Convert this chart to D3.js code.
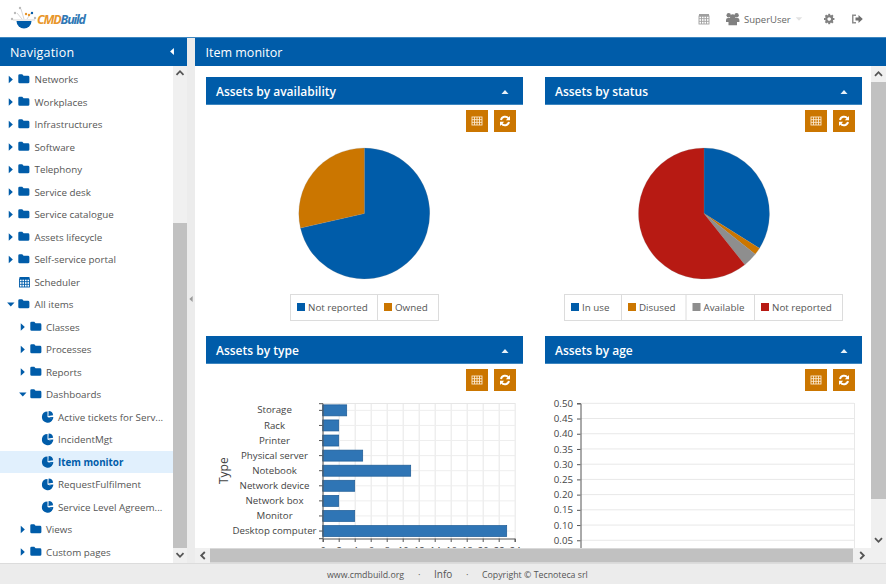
<!DOCTYPE html>
<html>
<head>
<meta charset="utf-8">
<title>Item monitor</title>
<script src="https://cdn.jsdelivr.net/npm/d3@7"></script>
<style>
html,body{margin:0;padding:0;background:#fff;overflow:hidden;}
svg{display:block;}
text{font-family:"Open Sans",sans-serif;}
</style>
</head>
<body>
<div id="app"></div>
<script>
// data
const availabilityLabels = ['Not reported','Owned'];
const availabilityValues = [40,16];
const statusLabels = ['In use','Disused','Available','Not reported'];
const statusValues = [19,1,2,34];
const typeLabels = ['Desktop computer','Monitor','Network box','Network device','Notebook','Physical server','Printer','Rack','Storage'];
const typeValues = [23,4,2,4,11,5,2,2,3];
const typeTicks = [0,2,4,6,8,10,12,14,16,18,20,22,24];
const ageTicks = [0,0.05,0.10,0.15,0.20,0.25,0.30,0.35,0.40,0.45,0.50];
// [label, indent level, kind]
const navItems = [
  ['Networks',0,'folder'],['Workplaces',0,'folder'],['Infrastructures',0,'folder'],
  ['Software',0,'folder'],['Telephony',0,'folder'],['Service desk',0,'folder'],
  ['Service catalogue',0,'folder'],['Assets lifecycle',0,'folder'],['Self-service portal',0,'folder'],
  ['Scheduler',0,'calendar'],['All items',0,'open'],['Classes',1,'folder'],
  ['Processes',1,'folder'],['Reports',1,'folder'],['Dashboards',1,'open'],
  ['Active tickets for Serv...',2,'pie'],['IncidentMgt',2,'pie'],['Item monitor',2,'selected'],
  ['RequestFulfilment',2,'pie'],['Service Level Agreem...',2,'pie'],['Views',1,'folder'],['Custom pages',1,'folder']
];

const blue='#005ca9', orange='#cb7600', red='#b71a13', gray='#8e8e8e';
const sliceColors = [blue,orange,gray,red];
const textColor='#555';

const svg = d3.select('#app').append('svg').attr('width',886).attr('height',584);
const defs = svg.append('defs');
defs.append('clipPath').attr('id','main-clip').append('rect').attr('x',195).attr('y',66).attr('width',676).attr('height',482);

function box(g,x,y,w,h,fill){
  return g.append('rect').attr('x',x).attr('y',y).attr('width',w).attr('height',h).attr('fill',fill);
}
function label(g,x,y,str,size,fill,anchor){
  return g.append('text').attr('x',x).attr('y',y).text(str).attr('font-size',size)
    .attr('fill',fill||textColor).attr('text-anchor',anchor||'start');
}
function tri(g,cx,cy,dir,size,fill){
  const s=size;
  const pts={right:[[-s*0.55,-s],[s*0.55,0],[-s*0.55,s]],left:[[s*0.55,-s],[-s*0.55,0],[s*0.55,s]],
    down:[[-s,-s*0.55],[s,-s*0.55],[0,s*0.55]],up:[[-s,s*0.55],[s,s*0.55],[0,-s*0.55]]}[dir];
  g.append('path').attr('d',d3.line()(pts)+'Z').attr('transform',`translate(${cx},${cy})`).attr('fill',fill);
}
function chevron(g,cx,cy,dir,fill){
  const p={up:[[-3.5,1.8],[0,-1.8],[3.5,1.8]],down:[[-3.5,-1.8],[0,1.8],[3.5,-1.8]],left:[[1.8,-3.5],[-1.8,0],[1.8,3.5]],right:[[-1.8,-3.5],[1.8,0],[-1.8,3.5]]}[dir];
  g.append('path').attr('d',d3.line()(p)).attr('transform',`translate(${cx},${cy})`)
    .attr('fill','none').attr('stroke',fill).attr('stroke-width',1.8);
}
function folder(g,x,y){
  g.append('path').attr('transform',`translate(${x},${y}) scale(0.88,0.9)`).attr('fill',blue)
    .attr('d','M0,1.5Q0,0 1.5,0H4.5L6,1.8H11Q12.6,1.8 12.6,3.4V8.6Q12.6,10 11,10H1.5Q0,10 0,8.6Z');
}
function pieIcon(g,cx,cy){
  const ic=g.append('g').attr('transform',`translate(${cx},${cy})`).attr('fill',blue);
  ic.append('path').attr('d',d3.arc()({innerRadius:0,outerRadius:5.6,startAngle:Math.PI/2+0.35,endAngle:Math.PI*2}));
  ic.append('path').attr('transform','translate(0.9,-1.1)').attr('d',d3.arc()({innerRadius:0,outerRadius:4.8,startAngle:0.05,endAngle:Math.PI/2-0.15}));
  ic.append('path').attr('transform','translate(1.4,0.3)').attr('d',d3.arc()({innerRadius:0,outerRadius:4.4,startAngle:Math.PI/2-0.05,endAngle:Math.PI/2+0.55}));
}
function gridIcon(g,cx,cy,w,h,color){
  const ic=g.append('g').attr('transform',`translate(${cx-w/2},${cy-h/2})`).attr('stroke',color).attr('fill','none').attr('stroke-width',0.9);
  ic.append('rect').attr('width',w).attr('height',h);
  d3.range(1,4).forEach(i=>ic.append('line').attr('x1',i*w/4).attr('x2',i*w/4).attr('y1',0).attr('y2',h));
  d3.range(1,3).forEach(i=>ic.append('line').attr('y1',i*h/3).attr('y2',i*h/3).attr('x1',0).attr('x2',w));
}

// top bar
const topBar = svg.append('g');
box(topBar,0,0,886,37,'#fff');
box(topBar,0,37,886,1.5,'#3d86c0');
const logo = topBar.append('g');
logo.append('path').attr('transform','translate(24,21)').attr('fill',blue)
  .attr('d',d3.arc()({innerRadius:0,outerRadius:7.5,startAngle:Math.PI/2,endAngle:Math.PI*1.5}));
logo.append('path').attr('d','M13,20H35M17,13L22,19M21,9L24,19M31,13L27,19').attr('stroke','#c4c4c4').attr('fill','none').attr('stroke-width',0.7);
[[12,19,'#bbb'],[15,13,'#bbb'],[20,8,'#bbb'],[26,14,'#e8962a'],[29,15,'#e8962a'],[32,13,blue],[35,18,'#bbb']].forEach(d=>{
  logo.append('circle').attr('cx',d[0]).attr('cy',d[1]).attr('r',1.2).attr('fill',d[2]);
});
const logoText = logo.append('text').attr('x',37).attr('y',23.5).attr('font-size',12.5).attr('font-weight',700).attr('font-style','italic').attr('textLength',49);
logoText.append('tspan').text('CMD').attr('fill','#e8962a');
logoText.append('tspan').text('Build').attr('fill','#2f78b5');

gridIcon(topBar,704,20,10,8,'#a0a0a0');
box(topBar,699,14,10,2.5,'#a0a0a0');
const users=topBar.append('g').attr('fill','#808080');
[[728.7,15.3,2.2],[736.6,15.3,2.2],[732.7,17,2.7]].forEach(d=>users.append('circle').attr('cx',d[0]).attr('cy',d[1]).attr('r',d[2]));
users.append('path').attr('d','M726,22V20Q726,18 728,18H737.5Q739.4,18 739.4,20V22H737V25.3H728.5V22Z');
label(topBar,744,23,'SuperUser',9.5,'#666');
tri(topBar,799,19,'down',3.3,'#e2e2e2');
// settings gear
const gear=topBar.append('g').attr('transform','translate(829.2,19)');
gear.selectAll('line').data(d3.range(8)).join('line')
  .attr('x1',0).attr('y1',-3.5).attr('x2',0).attr('y2',-5.2).attr('stroke','#808080').attr('stroke-width',2)
  .attr('transform',d=>`rotate(${d*45})`);
gear.append('circle').attr('r',2.9).attr('fill','none').attr('stroke','#808080').attr('stroke-width',2.2);
topBar.append('path').attr('d','M852,14.5H856V16H853.5V22H856V23.5H852Z').attr('fill','#909090');
topBar.append('path').attr('d','M855.5,17.5H858.5V15L862.8,19L858.5,23V20.5H855.5Z').attr('fill','#707070');

// navigation panel
const nav = svg.append('g');
box(nav,0,38,187,525,'#fff');
box(nav,0,38,187,28,blue);
label(nav,10,56.5,'Navigation',12.5,'#fff').attr('letter-spacing',0.2);
tri(nav,172,51.5,'left',3.5,'#fff');
box(nav,0,451,173,22,'#e1f0fd');
navItems.forEach((d,i)=>{
  const cy=79.5+i*22.5, ind=d[1];
  const row=nav.append('g');
  const tx=[34.5,46,58][ind];
  if(d[2]==='folder'){ tri(row,10.8+ind*12,cy,'right',3.7,blue); folder(row,18.3+ind*12,cy-5.3); }
  if(d[2]==='open'){ tri(row,10.8+ind*12,cy,'down',3.7,blue); folder(row,18.3+ind*12,cy-5.3); }
  if(d[2]==='calendar'){ gridIcon(row,24.5,cy+1,10,8,blue); box(row,19.5,cy-5,10,2.5,blue); }
  if(d[2]==='pie'||d[2]==='selected') pieIcon(row,47.5,cy);
  const t=label(row,tx,cy+3.5,d[0],9.8,d[2]==='selected'?blue:textColor);
  if(d[2]==='selected') t.attr('font-weight',700);
});
box(nav,173,66,14,482,'#f0f0f0');
box(nav,173,223,14,325,'#c1c1c1');
chevron(nav,180,73,'up','#555');
box(nav,173,548,14,15,'#f0f0f0');
chevron(nav,180,555,'down','#555');
box(nav,187,38,8,525,'#ececec');
tri(nav,191,299,'left',3,'#9a9a9a');

// main panel
const main = svg.append('g');
box(main,195,38,691,28,blue);
label(main,205.5,57,'Item monitor',12.5,'#fff');

const content = main.append('g').attr('clip-path','url(#main-clip)');
function panel(x,y,title){
  const g=content.append('g');
  box(g,x,y,317,28,blue);
  box(g,x,y+27,317,1,'#3d86c0');
  label(g,x+10,y+19,title,12,'#fff').attr('font-weight',600);
  tri(g,x+299,y+15,'up',3.5,'#e8f1f8');
  box(g,x+260,y+33,22,22,orange);
  gridIcon(g,x+271,y+44,10,8,'#fbe9cf');
  box(g,x+288,y+33,22,22,orange);
  const c=x+299, m=y+44;
  g.append('path').attr('fill','none').attr('stroke','#fff').attr('stroke-width',2)
    .attr('d',`M${c-4},${m-1}A4.2,4.2 0 0 1 ${c+3.5},${m-2.5}M${c+4},${m+1}A4.2,4.2 0 0 1 ${c-3.5},${m+2.5}`);
  g.append('path').attr('fill','#fff').attr('d',`M${c+5},${m-5}V${m-0.8}H${c+0.8}Z M${c-5},${m+5}V${m+0.8}H${c-0.8}Z`);
  return g;
}

function drawPie(g,cx,cy,r,values,colors){
  const arcs=d3.pie().sort(null)(values);
  const arc=d3.arc().innerRadius(0).outerRadius(r);
  g.append('g').attr('transform',`translate(${cx},${cy})`).selectAll('path').data(arcs).join('path')
    .attr('d',arc).attr('fill',(d,i)=>colors[i]).attr('stroke','#888').attr('stroke-opacity',0.35).attr('stroke-width',0.6);
}
function drawLegend(g,x,y,h,cells,colors){
  let cur=x;
  const total=d3.sum(cells,d=>d.w);
  g.append('rect').attr('x',x+0.5).attr('y',y+0.5).attr('width',total).attr('height',h).attr('fill','#fff').attr('stroke','#dcdcdc');
  cells.forEach((d,i)=>{
    if(i>0) g.append('line').attr('x1',cur+0.5).attr('x2',cur+0.5).attr('y1',y).attr('y2',y+h).attr('stroke','#dcdcdc');
    box(g,cur+7,y+9,8,8,colors[i]);
    label(g,cur+18,y+17,d.label,9.8,textColor);
    cur+=d.w;
  });
}

const p1=panel(206,77,'Assets by availability');
drawPie(p1,364.3,213.5,65.5,availabilityValues,[blue,orange]);
drawLegend(p1,290,294,26,availabilityLabels.map((l,i)=>({label:l,w:[87,61][i]})),[blue,orange]);

const p2=panel(545,77,'Assets by status');
drawPie(p2,704,213.5,65.5,statusValues,sliceColors);
drawLegend(p2,564,294,26,statusLabels.map((l,i)=>({label:l,w:[57,64.5,68.5,88][i]})),sliceColors);

// Assets by type
const p3=panel(206,336,'Assets by type');
const xType=d3.scaleLinear().domain([0,24]).range([322.7,514.7]);
const yType=d3.scaleBand().domain(typeLabels).range([538.2,403.2]).paddingInner(0.27).paddingOuter(0.11);
p3.append('g').selectAll('line.gx').data(typeTicks).join('line').attr('class','gx')
  .attr('x1',d=>xType(d)+0.5).attr('x2',d=>xType(d)+0.5).attr('y1',403).attr('y2',538).attr('stroke','#e6e6e6');
p3.append('g').selectAll('line.gy').data(typeLabels).join('line').attr('class','gy')
  .attr('x1',322).attr('x2',515).attr('y1',d=>yType(d)+yType.bandwidth()/2).attr('y2',d=>yType(d)+yType.bandwidth()/2).attr('stroke','#eeeeee');
p3.append('line').attr('x1',322).attr('x2',515).attr('y1',403.5).attr('y2',403.5).attr('stroke','#e6e6e6');
p3.append('g').selectAll('rect').data(typeLabels).join('rect')
  .attr('x',xType(0)).attr('y',d=>yType(d))
  .attr('width',(d,i)=>xType(typeValues[i])-xType(0)).attr('height',yType.bandwidth())
  .attr('fill','#2f75b5').attr('stroke','#1c5a94').attr('stroke-width',0.7);
const yAxisType=p3.append('g').attr('transform','translate(322.5,0)').call(d3.axisLeft(yType).tickSize(3.5));
const xAxisType=p3.append('g').attr('transform','translate(0,538.5)').call(d3.axisBottom(xType).tickValues(typeTicks).tickSize(3.5).tickPadding(5));
[yAxisType,xAxisType].forEach(a=>{
  a.selectAll('text').attr('font-family','"Open Sans",sans-serif').attr('font-size',9.7).attr('fill','#444');
  a.selectAll('line,path').attr('stroke','#555');
});
// category labels are centred on one another in the original
yAxisType.selectAll('text').attr('text-anchor','middle').attr('x',-48);
label(p3,0,0,'Type',12,'#444','middle').attr('transform','translate(228,470.7) rotate(-90)');

// Assets by age
const p4=panel(545,336,'Assets by age');
const yAge=d3.scaleLinear().domain([0,0.5]).range([555.5,403.3]);
p4.append('g').selectAll('line').data(ageTicks).join('line')
  .attr('x1',581).attr('x2',854).attr('y1',d=>yAge(d)).attr('y2',d=>yAge(d)).attr('stroke','#e8e8e8');
p4.append('line').attr('x1',854.5).attr('x2',854.5).attr('y1',403).attr('y2',556).attr('stroke','#e8e8e8');
const yAxisAge=p4.append('g').attr('transform','translate(580.5,0)').call(d3.axisLeft(yAge).tickValues(ageTicks).tickFormat(d3.format('.2f')).tickSize(3.5).tickPadding(4));
yAxisAge.selectAll('text').attr('font-family','"Open Sans",sans-serif').attr('font-size',9.7).attr('fill','#444');
yAxisAge.selectAll('line,path').attr('stroke','#555');

// main scrollbars
box(main,871,66,15,497,'#f0f0f0');
box(main,871,82,15,417,'#c1c1c1');
chevron(main,878.5,74,'up','#555');
chevron(main,878.5,540,'down','#555');
box(main,195,548,691,15,'#f0f0f0');
box(main,210,548.5,643,14,'#c1c1c1');
chevron(main,203,555.5,'left','#555');
chevron(main,862,555.5,'right','#555');

// footer
const foot = svg.append('g');
box(foot,0,563,886,21,'#ececec');
box(foot,0,563,886,1,'#dcdcdc');
label(foot,327,578,'www.cmdbuild.org',8.8,textColor);
label(foot,418,578,'·',9.6,textColor);
label(foot,434,578,'Info',10,textColor);
label(foot,466,578,'·',9.6,textColor);
label(foot,482,578,'Copyright © Tecnoteca srl',8.8,textColor);
</script>
</body>
</html>
